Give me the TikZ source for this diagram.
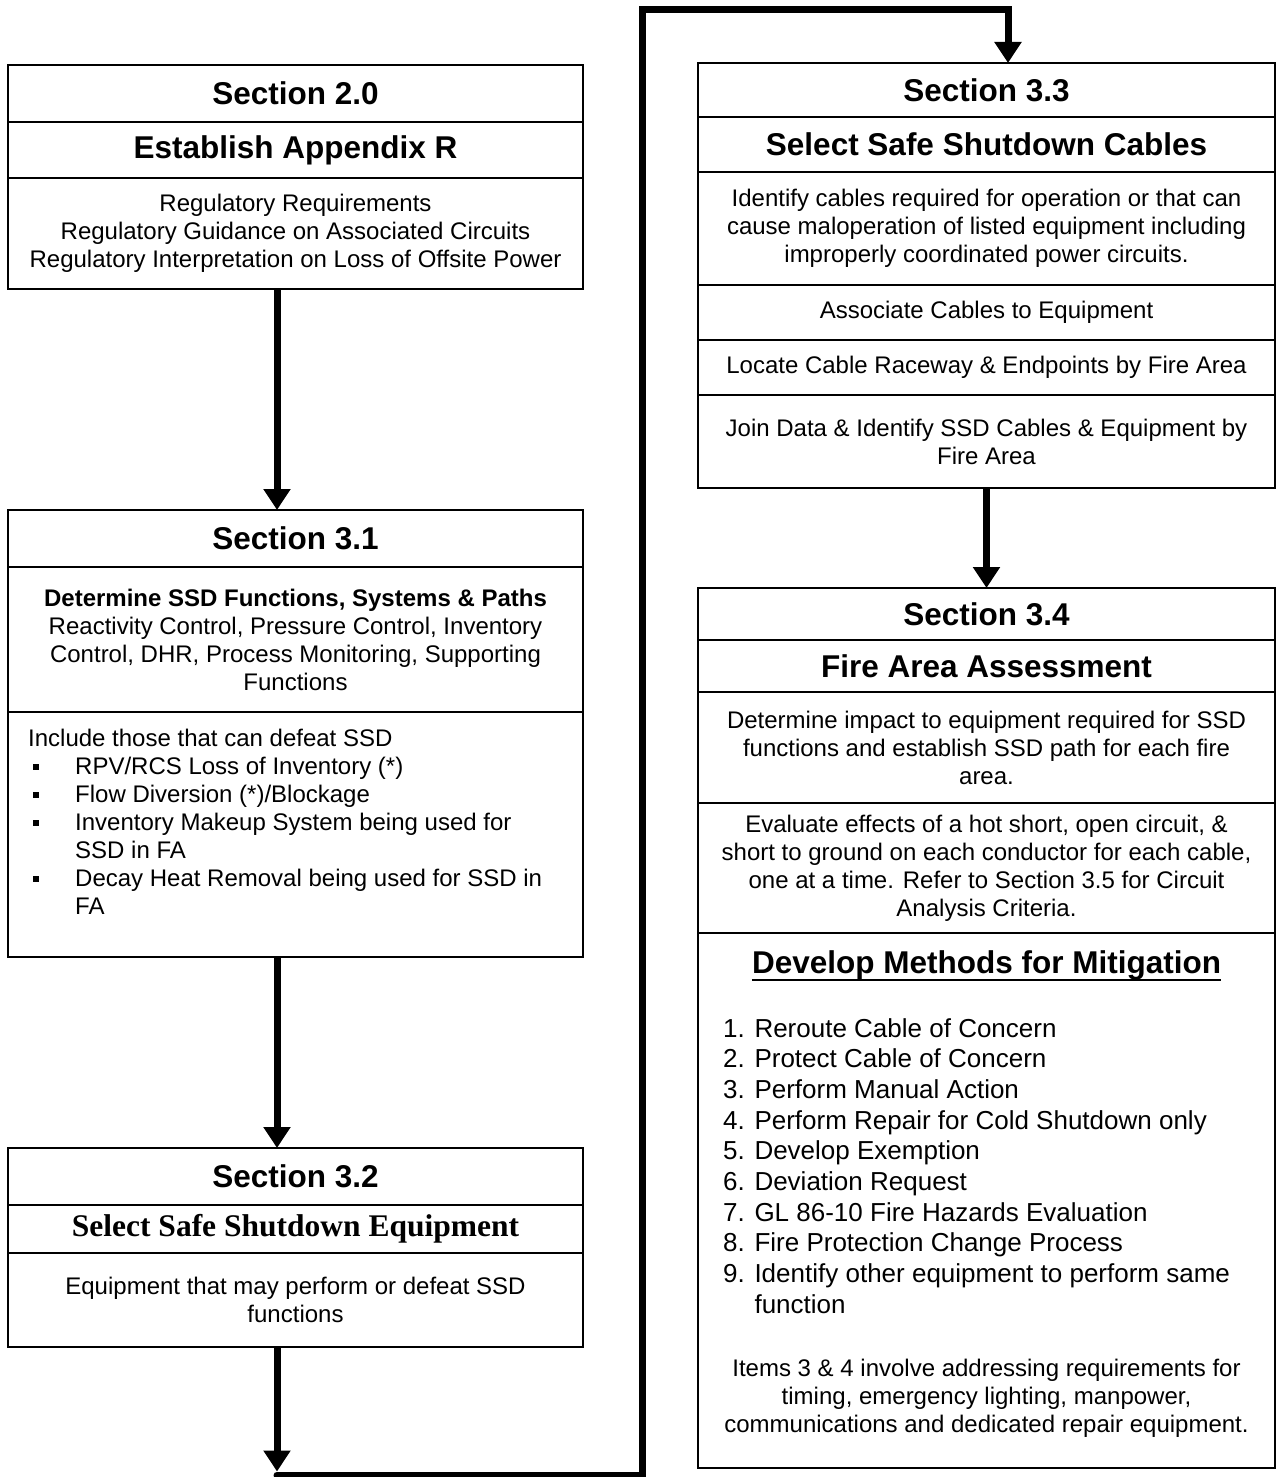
\documentclass[tikz,border=0pt]{standalone}
\usepackage{fontspec}
\setmainfont{Liberation Sans}
\newfontfamily\serifface{Liberation Serif}
\usetikzlibrary{positioning, arrows.meta}
\newcommand{\bodysize}{\fontsize{24}{28}\selectfont}
\newcommand{\headsize}{\fontsize{31.5}{36}\selectfont\bfseries}
\newcommand{\listsize}{\fontsize{26}{30.7}\selectfont}
\newcommand{\sqbullet}{\hspace*{5pt}\makebox[42pt][l]{\rule[5pt]{6pt}{6pt}}}
\tikzset{
  cell/.style={draw, line width=1.6pt, inner sep=0pt, outer sep=0pt, anchor=north, align=center, font=\bodysize},
  lcell/.style={cell, minimum width=575pt},
  rcell/.style={cell, minimum width=577pt},
  head/.style={font=\headsize},
  flow/.style={line width=7pt, -{Triangle[width=26pt,length=21pt]}}
}

\begin{document}
\begin{tikzpicture}[x=1pt, y=-1pt]
        \useasboundingbox (0,0) rectangle (1277,1477);

        % Left column
        \node[lcell, head, minimum height=57pt] (s20a) at (295.5,65) {Section 2.0};
        \node[lcell, head, minimum height=56pt, below=0pt of s20a] (s20b) {Establish Appendix R};
        \node[lcell, minimum height=111pt, below=0pt of s20b] (s20c) {Regulatory Requirements\\Regulatory Guidance on Associated Circuits\\Regulatory Interpretation on Loss of Offsite Power};

        \node[lcell, head, minimum height=57pt] (s31a) at (295.5,510) {Section 3.1};
        \node[lcell, minimum height=145pt, below=0pt of s31a] (s31b) {\textbf{Determine SSD Functions, Systems \& Paths}\\Reactivity Control, Pressure Control, Inventory\\Control, DHR, Process Monitoring, Supporting\\Functions};
        \node[lcell, minimum height=245pt, below=0pt of s31b] (s31c) {};
        \node[anchor=north west, align=left, inner sep=0pt, font=\bodysize] (defeat) at (28,729) {Include those that can defeat SSD\\
                \sqbullet RPV/RCS Loss of Inventory (*)\\
                \sqbullet Flow Diversion (*)/Blockage\\
                \sqbullet Inventory Makeup System being used for\\
                \hspace*{47pt}SSD in FA\\
                \sqbullet Decay Heat Removal being used for SSD in\\
                \hspace*{47pt}FA};

        \node[lcell, head, minimum height=57pt] (s32a) at (295.5,1148) {Section 3.2};
        \node[lcell, head, minimum height=48pt, below=0pt of s32a] (s32b) {\serifface Select Safe Shutdown Equipment};
        \node[lcell, minimum height=94pt, below=0pt of s32b] (s32c) {Equipment that may perform or defeat SSD\\functions};

        % Right column
        \node[rcell, head, minimum height=54pt] (s33a) at (986.5,63) {Section 3.3};
        \node[rcell, head, minimum height=55pt, below=0pt of s33a] (s33b) {Select Safe Shutdown Cables};
        \node[rcell, minimum height=113pt, below=0pt of s33b] (s33c) {Identify cables required for operation or that can\\cause maloperation of listed equipment including\\improperly coordinated power circuits.};
        \node[rcell, minimum height=55pt, below=0pt of s33c] (s33d) {Associate Cables to Equipment};
        \node[rcell, minimum height=55pt, below=0pt of s33d] (s33e) {Locate Cable Raceway \& Endpoints by Fire Area};
        \node[rcell, minimum height=93pt, below=0pt of s33e] (s33f) {Join Data \& Identify SSD Cables \& Equipment by\\Fire Area};

        \node[rcell, head, minimum height=52pt] (s34a) at (986.5,588) {Section 3.4};
        \node[rcell, head, minimum height=52pt, below=0pt of s34a] (s34b) {Fire Area Assessment};
        \node[rcell, minimum height=111pt, below=0pt of s34b] (s34c) {Determine impact to equipment required for SSD\\functions and establish SSD path for each fire\\area.};
        \node[rcell, minimum height=130pt, below=0pt of s34c] (s34d) {Evaluate effects of a hot short, open circuit, \&\\short to ground on each conductor for each cable,\\one at a time. Refer to Section 3.5 for Circuit\\Analysis Criteria.};
        \node[rcell, minimum height=535pt, below=0pt of s34d] (s34e) {};
        \node[anchor=base, inner sep=0pt, font=\headsize] (mitig) at (986.5,973) {Develop Methods for Mitigation};
        \draw[line width=2.5pt] ([yshift=-7pt]mitig.base west) -- ([yshift=-7pt]mitig.base east);
        \node[anchor=north west, align=left, inner sep=0pt, font=\listsize] (methods) at (723,1018) {1. Reroute Cable of Concern\\
                2. Protect Cable of Concern\\
                3. Perform Manual Action\\
                4. Perform Repair for Cold Shutdown only\\
                5. Develop Exemption\\
                6. Deviation Request\\
                7. GL 86-10 Fire Hazards Evaluation\\
                8. Fire Protection Change Process\\
                9. Identify other equipment to perform same\\
                \phantom{9. }function};
        \node[align=center, inner sep=0pt, font=\bodysize] (items) at (986.5,1398) {Items 3 \& 4 involve addressing requirements for\\timing, emergency lighting, manpower,\\communications and dedicated repair equipment.};

        % Connectors
        \draw[flow] ([xshift=-18.5pt]s20c.south) -- ([xshift=-18.5pt]s31a.north);
        \draw[flow] ([xshift=-18.5pt]s31c.south) -- ([xshift=-18.5pt]s32a.north);
        \coordinate (low) at (277,1475);
        \coordinate (top) at (642,10);
        \draw[flow] ([xshift=-18.5pt]s32c.south) -- ([yshift=3.5pt]low);
        \draw[flow, line cap=round] (low) -| (top) -| ([xshift=21.5pt]s33a.north);
        \draw[flow] (s33f.south) -- (s34a.north);
\end{tikzpicture}
\end{document}
